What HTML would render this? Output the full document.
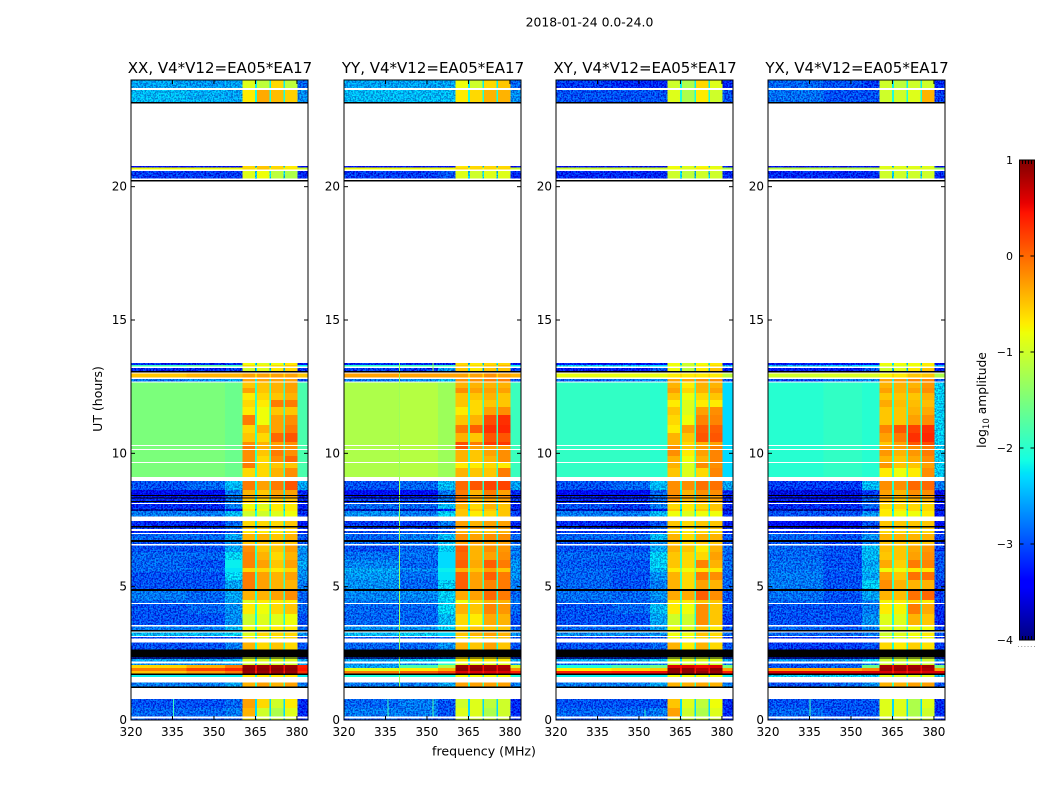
<!DOCTYPE html>
<html lang="en">
<head>
<meta charset="utf-8">
<title>2018-01-24 0.0-24.0</title>
<style>
html,body{margin:0;padding:0;background:#fff;}
svg{display:block;}
text{font-family:"DejaVu Sans","Liberation Sans",sans-serif;fill:#000;}
</style>
</head>
<body>
<svg id="chart" xmlns="http://www.w3.org/2000/svg" width="1050" height="800" viewBox="0 0 1050 800">
<defs>
<filter id="speckle" filterUnits="userSpaceOnUse" x="0" y="0" width="1050" height="800" color-interpolation-filters="sRGB">
<feTurbulence type="fractalNoise" baseFrequency="0.6" numOctaves="2" seed="7" result="raw"/>
<feColorMatrix in="raw" type="matrix" values="0 0 0 0 0.5  0 4 0 0 -1.5  0 4 0 0 -1.5  0 0 0 0 1" result="grain"/>
<feComposite in="SourceGraphic" in2="grain" operator="arithmetic" k1="0" k2="1" k3="0.4" k4="-0.2" result="mixed"/>
<feComposite in="mixed" in2="SourceAlpha" operator="in"/>
</filter>
</defs>
<rect x="0" y="0" width="1050" height="800" fill="#fff"/>
<text x="589.5" y="26.5" font-size="12.4" text-anchor="middle">2018-01-24 0.0-24.0</text>
<text x="484" y="755.5" font-size="12.6" text-anchor="middle">frequency (MHz)</text>
<text x="0" y="0" font-size="12.5" text-anchor="middle" transform="translate(102 399) rotate(-90)">UT (hours)</text>
<text x="0" y="0" font-size="12.3" text-anchor="middle" transform="translate(986 400) rotate(-90)">log<tspan font-size="8.6" dy="3">10</tspan><tspan dy="-3"> amplitude</tspan></text>
<g id="panels"></g>
<g id="colorbar"></g>
</svg>
<script>
const panelTitles = ["XX, V4*V12=EA05*EA17", "YY, V4*V12=EA05*EA17", "XY, V4*V12=EA05*EA17", "YX, V4*V12=EA05*EA17"];
const freqTicks = [320, 335, 350, 365, 380];
const hourTicks = [0, 5, 10, 15, 20];
const colorTicks = [1, 0, -1, -2, -3, -4];
const colorTickLabels = ["1", "0", "\u22121", "\u22122", "\u22123", "\u22124"];

/* channel-group edges in MHz: 3 low groups, then four windows separated by narrow gaps, then the upper edge */
const freqEdges = [320, 340, 354, 360.4, 364.9, 365.5, 370, 370.6, 375.1, 375.7, 380.2, 384];

/* time bands in UT hours, top to bottom; anything not covered stays blank */
const timeBands = [
[24,23.7],[23.63,23.18],[20.78,20.72],[20.72,20.64],[20.59,20.31],[13.39,13.31],[13.31,13.26],[13.2,13.09],[12.99,12.84],[12.79,12.69],
[12.65,12.45],[12.45,12.26],[12.26,12],[12,11.74],[11.74,11.44],[11.44,11.06],[11.06,10.76],[10.76,10.43],[10.43,10.31],[10.28,10.16],
[10.13,9.9],[9.9,9.68],[9.64,9.45],[9.45,9.12],[8.96,8.63],[8.63,8.44],[8.4,8.34],[8.31,8.21],[8.18,8.14],[8.1,7.91],
[7.91,7.84],[7.84,7.63],[7.46,7.28],[7.22,7.16],[7.09,7.01],[6.98,6.75],[6.68,6.6],[6.54,6.3],[6.3,6],[6,5.7],
[5.7,5.55],[5.55,5.25],[5.25,4.91],[4.84,4.5],[4.5,4.39],[4.35,3.98],[3.98,3.56],[3.51,3.38],[3.28,3.15],[3.11,3.06],
[2.91,2.64],[2.34,2.31],[2.29,2.19],[2.12,2.06],[2.06,1.95],[1.95,1.84],[1.84,1.74],[1.69,1.62],[1.4,1.25],[0.79,0.45],
[0.45,0.13],[0.05,0]
];

/* bands with zero amplitude, drawn solid black in every panel */
const zeroBands = [
[23.18,23.12],[20.25,20.19],[13.09,13.04],[8.44,8.4],[8.34,8.31],[8.21,8.18],[7.28,7.22],[6.75,6.68],[4.91,4.84],[3.38,3.32],
[2.64,2.34],[2.31,2.29],[1.74,1.69],[1.25,1.2]
];

/* log10 amplitude in the narrow gaps between windows, one per time band */
const gapValues = [
-2.2,-2.1,-2.6,-.9,-2.4,-2.4,-1.5,-2.5,-.6,-2.2,
-1.9,-1.9,-1.9,-1.9,-1.9,-1.9,-1.9,-1.9,-1.9,-1.9,
-1.9,-1.9,-1.9,-1.9,-2,-2.2,-2.2,-2.2,-2.2,-2.2,
-2.4,-2.1,-2.2,-2.2,-2.3,-2.1,-2.2,-1.9,-1.9,-1.9,
-1.4,-1.9,-1.9,-2,-1.6,-2,-2.1,-2,-2,-2.2,
-2.1,-2.6,-2.2,-2.4,.5,.5,.4,-2,-1.9,-2.3,
-2.3,-2.5
];

/* one row per time band: 320-340, 340-354, 354-360, window 1, window 2, window 3, window 4, 380-384 */
const valuesXX = [
[-2.6,-2.65,-2.6,-.9,-1.1,-.6,-1.1,-2.9],
[-2.5,-2.55,-2.6,-.7,-.35,-.45,-.55,-2.7],
[-3.4,-3.4,-3.4,-.6,-.5,-.6,-.7,-3.4],
[-.8,-.8,-.8,-.6,-.5,-.6,-.7,-1],
[-3.1,-3.1,-3.1,-.9,-.8,-1.1,-1.2,-3.2],
[-3.2,-3.2,-3.2,-.8,-.9,-.8,-.7,-3.3],
[-1.9,-1.7,-1.9,-.6,-.7,-.6,-.5,-2.2],
[-3.2,-3.2,-3.1,-1,-.9,-.7,-.6,-3.2],
[-.5,-.4,-.4,-.3,-.3,-.3,-.3,-.5],
[-2.8,-2.7,-2.6,-.3,-.3,-.3,-.3,-3],
[-1.5,-1.5,-1.6,-.5,-.5,-.4,-.3,-1.8],
[-1.5,-1.5,-1.6,-.3,-.5,-.4,-.3,-1.8],
[-1.5,-1.5,-1.6,-.7,-.6,-.5,-.4,-1.8],
[-1.5,-1.5,-1.6,-.6,-.7,-.1,-.1,-1.8],
[-1.5,-1.5,-1.6,-.7,-.8,-.5,-.5,-1.8],
[-1.5,-1.5,-1.6,-.1,-.8,-.3,-.2,-1.8],
[-1.5,-1.5,-1.6,-.6,-.4,-.3,-.1,-1.8],
[-1.5,-1.5,-1.6,-.5,-.6,0,.1,-1.8],
[-1.5,-1.5,-1.6,-.2,-.4,-.3,-.2,-1.8],
[-1.5,-1.5,-1.6,-.1,-.4,-.2,-.2,-1.8],
[-1.5,-1.5,-1.6,-.2,-.5,-.1,-.2,-1.8],
[-1.5,-1.5,-1.6,-.2,-.6,-.2,0,-1.8],
[-1.5,-1.5,-1.6,-.1,-.6,-.5,-.5,-1.8],
[-1.5,-1.5,-1.6,-.6,-.6,-.4,-.2,-1.8],
[-3,-2.9,-2.5,-.1,-.3,-.1,.1,-2.6],
[-3.5,-3.5,-2.8,-.4,-.5,-.3,-.3,-3.2],
[-3.3,-3.3,-2.9,-.3,-.4,-.3,-.3,-3.3],
[-3.2,-3.2,-2.8,-.5,-.6,-.5,-.5,-3.2],
[-3.2,-3.2,-2.8,-.5,-.6,-.5,-.5,-3.2],
[-3.2,-3.2,-2.8,-.8,-.9,-.7,-.7,-3.3],
[-3.9,-3.9,-3.6,-.7,-.8,-.7,-.7,-3.8],
[-2.8,-2.8,-2.5,-1,-1,-.9,-.8,-3.2],
[-3.2,-3.2,-2.9,-.6,-.6,-.6,-.5,-3.3],
[-3.1,-3.1,-2.9,-.5,-.5,-.5,-.5,-3.2],
[-3.2,-3.2,-3,-.7,-.7,-.7,-.6,-3.2],
[-2.9,-2.9,-2.6,-.4,-.4,-.5,-.4,-3],
[-3,-3,-2.7,-.5,-.5,-.5,-.5,-3],
[-3,-3,-2.6,-.2,-.5,-.5,-.3,-2.7],
[-2.9,-2.9,-2.35,-.15,-.4,-.6,-.4,-2.7],
[-2.9,-3,-2.2,-.15,-.3,-.5,-.3,-2.6],
[-2.9,-2.9,-2.25,-.6,-.6,-.7,-.6,-2.7],
[-3,-3,-2.35,-.1,-.3,-.4,-.3,-2.7],
[-3,-3,-2.6,-.1,-.3,-.4,-.4,-2.8],
[-2.8,-2.9,-2.6,-.4,-.4,-.3,-.2,-2.9],
[-2.9,-2.9,-2.6,-.9,-.7,-.7,-.7,-2.9],
[-3,-2.9,-2.7,-.7,-.8,-.6,-.5,-2.9],
[-3,-3,-2.7,-1,-.9,-.9,-.8,-3],
[-2.8,-2.8,-2.5,-.8,-.8,-.7,-.7,-2.9],
[-2.5,-2.5,-2.4,-.9,-.6,-.6,-.6,-2.7],
[-3.1,-3.1,-3,-.7,-.8,-.7,-.6,-3.1],
[-3,-3,-2.8,-.4,-.6,-.5,-.6,-3],
[-3.2,-3.2,-3.1,-1,-1,-1,-1,-3.2],
[-2.6,-2.6,-2.5,-.9,-.9,-.9,-.9,-2.6],
[-2.7,-2.7,-2.6,-1,-1,-1,-1,-2.6],
[-.6,-.4,-.1,.9,.9,.9,.9,.4],
[-.1,.2,.35,.95,.95,.95,.95,.45],
[-.5,-.3,-.1,.9,.9,.9,.9,.3],
[-2.2,-2.2,-2.2,-.7,-.7,-.7,-.7,-2.2],
[-2.8,-2.8,-2.6,-.4,-.3,-.4,-.3,-2.8],
[-3,-3,-2.9,-.3,-.6,-1,-.7,-3.2],
[-2.9,-2.9,-2.8,-.4,-1,-1.2,-.9,-3.2],
[-3,-3,-3,-.7,-1,-1,-1,-3.2]
];
const valuesYY = [
[-2.6,-2.6,-2.6,-.8,-1,-.6,-.5,-2.9],
[-2.5,-2.5,-2.5,-.7,-.6,-.4,-.4,-2.7],
[-3.4,-3.4,-3.4,-.7,-.6,-.6,-.6,-3.4],
[-.8,-.8,-.8,-.6,-.6,-.6,-.6,-1],
[-3.1,-3.1,-3,-.9,-1,-.9,-.9,-3.2],
[-3.2,-3.2,-3.2,-.6,-.7,-.6,-.6,-3.3],
[-2,-1.9,-1.9,-.5,-.6,-.5,-.4,-2.2],
[-3.1,-3.1,-2.7,-.5,-.7,-.5,-.5,-3.1],
[-.3,-.3,-.3,-.3,-.3,-.2,-.3,-.4],
[-2.8,-2.7,-2.5,-.2,-.2,-.1,-.1,-3],
[-1.2,-1.15,-1.3,-.4,-.4,-.4,-.4,-1.9],
[-1.2,-1.15,-1.3,-.2,-.3,-.3,-.3,-1.9],
[-1.2,-1.15,-1.3,-.5,-.5,-.4,-.5,-1.9],
[-1.2,-1.15,-1.3,-.5,-.6,-.5,-.5,-1.9],
[-1.2,-1.15,-1.3,-.7,-.6,-.3,-.2,-1.9],
[-1.2,-1.15,-1.3,-.5,-.4,.15,.3,-1.9],
[-1.2,-1.15,-1.3,-.1,.05,.3,.35,-1.9],
[-1.2,-1.15,-1.3,-.4,-.5,.1,.1,-1.9],
[-1.2,-1.15,-1.3,.15,-.1,.25,.25,-1.9],
[-1.2,-1.15,-1.3,.1,-.3,-.3,-.3,-1.9],
[-1.2,-1.15,-1.3,-.4,-.5,-.3,-.2,-1.9],
[-1.2,-1.15,-1.3,-.4,-.5,-.4,-.2,-1.9],
[-1.2,-1.15,-1.3,-.7,-.7,-.6,-.7,-1.9],
[-1.2,-1.15,-1.3,-.4,-.5,-.5,-.1,-1.9],
[-3,-2.9,-2.5,0,.1,.2,.2,-2.6],
[-3.4,-3.4,-2.8,-.1,-.4,-.1,-.3,-3.2],
[-3.3,-3.3,-2.9,-.1,-.3,-.2,-.2,-3.3],
[-3.1,-3.1,-2.8,-.1,-.4,-.3,-.3,-3.1],
[-3.1,-3.1,-2.8,-.3,-.4,-.4,-.4,-3.2],
[-2.9,-2.9,-2.5,-.4,-.6,-.4,-.5,-3.2],
[-3.8,-3.8,-3.3,-.5,-.5,-.5,-.5,-3.8],
[-2.7,-2.8,-2.4,-.5,-.7,-.6,-.5,-3.1],
[-3.1,-3.1,-2.8,-.3,-.4,-.3,-.3,-3.2],
[-3.1,-3.1,-2.9,-.3,-.3,-.3,-.3,-3.2],
[-3,-3,-2.9,-.4,-.5,-.5,-.4,-3.1],
[-2.9,-2.8,-2.5,-.2,-.3,-.2,-.2,-2.9],
[-2.9,-2.9,-2.5,-.3,-.3,-.3,-.3,-2.9],
[-3,-2.9,-2.4,.05,-.4,-.2,-.25,-2.8],
[-2.85,-2.85,-2.3,0,-.4,-.3,-.2,-2.8],
[-2.75,-2.9,-2.3,.05,-.35,.05,-.1,-2.7],
[-2.6,-2.75,-2.2,-.4,-.5,-.3,-.5,-2.7],
[-2.65,-2.85,-2.25,.05,-.3,.05,-.1,-2.7],
[-2.7,-2.9,-2.4,.05,-.3,-.15,-.1,-2.8],
[-2.75,-2.75,-2.4,-.35,-.3,0,-.1,-2.9],
[-2.8,-2.8,-2.4,-.8,-.6,-.4,-.4,-2.8],
[-2.9,-2.9,-2.35,-.4,-.5,-.15,-.25,-2.9],
[-2.9,-2.9,-2.5,-.6,-.7,-.35,-.4,-3],
[-2.7,-2.7,-2.4,-.6,-.5,-.5,-.5,-2.9],
[-2.5,-2.4,-2.3,-.5,-.4,-.3,-.4,-2.7],
[-3,-3,-2.9,-.7,-.7,-.5,-.5,-3],
[-2.9,-2.9,-2.7,-.4,-.5,-.3,-.5,-3],
[-3.1,-3.1,-3,-.7,-.7,-.7,-.7,-3.2],
[-2.6,-2.4,-2.2,-.7,-.7,-.7,-.7,-2.6],
[-2.7,-2.7,-2,-.9,-.9,-.9,-.9,-2.6],
[-2.6,-1.8,-1.2,.9,.9,.85,.8,-1],
[-.9,-.7,-.4,.95,.95,.9,.85,-.2],
[-.1,.05,.2,.6,.6,.6,.6,.4],
[-2.1,-2.1,-2.1,-.8,-.8,-.8,-.8,-2.1],
[-2.8,-2.8,-2.6,-.3,-.3,-.3,-.3,-2.8],
[-2.9,-2.8,-3,-1,-.9,-1.1,-1,-3.2],
[-2.8,-2.8,-3,-.9,-.9,-1.2,-1,-3.2],
[-3,-3,-3,-1,-1,-1,-1,-3.2]
];
const valuesXY = [
[-3.1,-3.2,-3.2,-1,-1.2,-.6,-.9,-3.2],
[-3,-3,-3,-.9,-1.2,-.7,-1,-3],
[-3.5,-3.5,-3.5,-.8,-.9,-.8,-.9,-3.5],
[-1,-1,-1,-.8,-.9,-.7,-.8,-1.2],
[-3.2,-3.2,-3.2,-1,-1.1,-1,-1,-3.2],
[-3.3,-3.3,-3.3,-.8,-1,-.8,-.7,-3.4],
[-2.4,-2.4,-2.3,-.8,-1,-.7,-.6,-2.5],
[-3.3,-3.3,-3,-.8,-1.1,-.7,-.5,-3.3],
[-.85,-.85,-.85,-.7,-.7,-.7,-.7,-1.1],
[-2.9,-2.8,-2.7,-.3,-.3,-.2,-.2,-3],
[-1.95,-1.95,-2,-.4,-.7,-.4,-.4,-2.3],
[-1.95,-1.95,-2,-.3,-.6,-.4,-.3,-2.3],
[-1.95,-1.95,-2,-.5,-.8,-.6,-.5,-2.3],
[-1.95,-1.95,-2,-.7,-.9,-.7,-.7,-2.3],
[-1.95,-1.95,-2,-.5,-.9,-.3,-.2,-2.3],
[-1.95,-1.95,-2,-.6,-.8,-.15,-.15,-2.3],
[-1.95,-1.95,-2,-.7,-.3,.05,.05,-2.3],
[-1.95,-1.95,-2,-.4,-.5,.1,.1,-2.3],
[-1.95,-1.95,-2,-.4,-.6,-.4,-.3,-2.3],
[-1.95,-1.95,-2,-.2,-.5,-.3,-.15,-2.3],
[-1.95,-1.95,-2,-.2,-.7,-.3,-.15,-2.3],
[-1.95,-1.95,-2,-.4,-.8,-.4,-.15,-2.3],
[-1.95,-1.95,-2,-.4,-.9,-.2,-.2,-2.3],
[-1.95,-1.95,-2,-.5,-.9,-.6,-.15,-2.3],
[-3,-2.9,-2.5,-.2,-.2,-.05,-.05,-2.6],
[-3.4,-3.4,-2.9,-.2,-.4,-.2,-.2,-3.2],
[-3.3,-3.3,-2.9,-.2,-.3,-.3,-.3,-3.3],
[-3.2,-3.2,-2.9,-.2,-.4,-.3,-.3,-3.2],
[-3.2,-3.2,-2.9,-.5,-.6,-.4,-.5,-3.2],
[-3,-3.1,-2.8,-.6,-.7,-.6,-.5,-3.2],
[-3.8,-3.8,-3.6,-.5,-.7,-.5,-.5,-3.8],
[-2.8,-2.8,-2.5,-.8,-.9,-.8,-.8,-3.2],
[-3.2,-3.2,-3,-.5,-.6,-.5,-.5,-3.3],
[-3.1,-3.1,-2.9,-.5,-.6,-.5,-.5,-3.2],
[-3.1,-3.1,-3,-.6,-.7,-.6,-.6,-3.2],
[-2.9,-2.9,-2.5,-.4,-.6,-.4,-.4,-3],
[-3,-3,-2.7,-.5,-.6,-.5,-.5,-3],
[-3,-3,-2.6,-.4,-.5,-.7,-.4,-2.9],
[-2.9,-2.9,-2.4,-.5,-.6,-.6,-.3,-2.9],
[-2.95,-3,-2.4,-.5,-.6,-.15,-.4,-2.9],
[-2.9,-2.95,-2.5,-.7,-.8,-.7,-.7,-2.9],
[-2.9,-3,-2.7,-.4,-.6,-.1,-.2,-2.9],
[-2.9,-3,-2.8,-.4,-.6,-.3,-.4,-2.9],
[-2.85,-2.9,-2.7,-.35,-.35,.05,-.2,-3],
[-2.9,-2.9,-2.8,-.7,-.7,-.5,-.5,-3],
[-3,-2.9,-2.5,-.7,-.8,-.2,-.5,-3],
[-3,-3,-2.6,-1,-1,-.2,-.5,-3.1],
[-2.9,-2.9,-2.6,-.8,-.9,-.5,-.7,-3],
[-2.7,-2.7,-2.7,-.8,-.8,-.5,-.6,-2.9],
[-3.2,-3.2,-3,-.8,-.8,-.6,-.6,-3.2],
[-3,-3,-2.9,-.4,-.7,-.4,-.6,-3],
[-3.2,-3.2,-3.1,-1,-1,-1,-1,-3.2],
[-2.6,-2.6,-2.4,-.9,-.9,-.9,-.9,-2.6],
[-2.9,-2.9,-2.8,-1,-1,-1,-1,-2.8],
[-2.1,-1.8,-1.6,.6,.6,.5,.6,-1.5],
[-.7,-.6,-.5,.95,.95,.8,.95,-.3],
[.4,.45,.5,.95,.95,.9,.9,.4],
[-2.2,-2.2,-2.2,-.8,-.8,-.8,-.8,-2.2],
[-2.8,-2.8,-2.6,-.4,-.4,-.35,-.4,-2.8],
[-3,-3,-3,-.5,-.9,-1.1,-.8,-3.2],
[-2.9,-2.9,-2.8,-.3,-1,-1.2,-.9,-3.2],
[-3,-3,-3,-.8,-1,-1,-1,-3.2]
];
const valuesYX = [
[-2.9,-3,-3.1,-1,-1.1,-1,-1,-3.2],
[-2.85,-3,-3,-1,-1,-.9,-.4,-3.1],
[-3.5,-3.5,-3.5,-.9,-.9,-.9,-.9,-3.5],
[-1.1,-1.1,-1.1,-.9,-.9,-.9,-.9,-1.3],
[-3.2,-3.2,-3.2,-1,-1,-1,-1,-3.2],
[-3.3,-3.3,-3.3,-.8,-.8,-.8,-.7,-3.4],
[-2.5,-2.5,-2.3,-.9,-.9,-.8,-.7,-2.6],
[-3.3,-3.3,-3,-1,-.9,-.7,-.5,-3.3],
[-1,-.95,-.95,-.75,-.7,-.5,-.5,-1.2],
[-3,-2.8,-2.7,-.3,-.25,-.15,-.15,-3],
[-2.02,-1.95,-2.02,-.4,-.4,-.4,-.25,-2.4],
[-2.02,-1.95,-2.02,-.3,-.4,-.3,-.2,-2.4],
[-2.02,-1.95,-2.02,-.5,-.5,-.5,-.4,-2.4],
[-2.02,-1.95,-2.02,-.35,-.45,-.45,-.45,-2.4],
[-2.02,-1.95,-2.02,-.5,-.5,-.4,-.35,-2.4],
[-2.02,-1.95,-2.02,-.5,-.5,-.3,-.2,-2.4],
[-2.02,-1.95,-2.02,-.15,.1,.2,.3,-2.4],
[-2.02,-1.95,-2.02,-.3,-.1,.3,.35,-2.4],
[-2.02,-1.95,-2.02,-.5,-.3,.1,.15,-2.4],
[-2.02,-1.95,-2.02,-.3,-.3,-.2,-.1,-2.4],
[-2.02,-1.95,-2.02,-.25,-.4,-.25,-.1,-2.4],
[-2.02,-1.95,-2.02,-.4,-.5,-.35,-.2,-2.4],
[-2.02,-1.95,-2.02,-.25,-.5,-.5,-.3,-2.4],
[-2.02,-1.95,-2.02,-.7,-.8,-.7,-.2,-2.4],
[-3.1,-3.1,-2.5,-.2,-.2,0,0,-2.8],
[-3.6,-3.6,-3.1,-.3,-.4,-.2,-.2,-3.5],
[-3.4,-3.4,-3,-.3,-.4,-.3,-.3,-3.4],
[-3.3,-3.3,-2.9,-.4,-.5,-.4,-.4,-3.3],
[-3.3,-3.3,-3,-.5,-.6,-.5,-.5,-3.3],
[-3.2,-3.2,-2.9,-.6,-.6,-.6,-.6,-3.3],
[-3.9,-3.9,-3.7,-.7,-.7,-.6,-.6,-3.9],
[-3,-3,-2.7,-.7,-.8,-.8,-.7,-3.3],
[-3.4,-3.4,-3,-.5,-.5,-.5,-.5,-3.4],
[-3.3,-3.3,-3,-.5,-.5,-.5,-.5,-3.3],
[-3.1,-3.2,-3,-.6,-.6,-.6,-.6,-3.2],
[-2.9,-3,-2.7,-.4,-.4,-.4,-.4,-3.1],
[-3,-3.1,-2.8,-.5,-.5,-.5,-.5,-3.1],
[-2.9,-3,-2.5,-.45,-.5,-.35,-.25,-3.1],
[-2.9,-3,-2.5,-.5,-.5,-.3,-.2,-3],
[-2.85,-3,-2.6,-.35,-.55,-.1,-.15,-3],
[-2.85,-2.95,-2.5,-.8,-.8,-.7,-.7,-3],
[-2.8,-3,-2.6,-.3,-.5,-.05,-.05,-3],
[-2.8,-3,-2.4,-.2,-.4,-.4,-.4,-3.1],
[-2.85,-3,-2.6,-.4,-.45,-.05,0,-3.1],
[-2.9,-3,-2.8,-.75,-.7,-.6,-.7,-3.1],
[-3,-3,-2.8,-.7,-.75,-.1,-.35,-3.2],
[-3,-3,-2.7,-.9,-.9,-.4,-.5,-3.2],
[-2.9,-3,-2.8,-.9,-.9,-.8,-.8,-3.1],
[-2.9,-2.9,-2.8,-1,-.9,-.8,-.7,-3],
[-3.2,-3.2,-3.1,-.9,-.9,-.8,-.8,-3.2],
[-3.1,-3.1,-3,-.6,-.7,-.55,-.65,-3.1],
[-3.3,-3.3,-3.2,-1,-1,-1,-1,-3.3],
[-2.7,-2.7,-2.4,-1,-1,-1,-1,-2.7],
[-3,-3,-2.8,-1,-1,-1,-1,-3],
[-3,-2.9,-1.6,.85,.85,.85,.85,-1.5],
[-.3,-.3,-.15,.9,.9,.9,.8,-.3],
[.6,.6,.6,.6,.6,.6,.6,.6],
[-2.4,-2.4,-2.4,-.9,-.9,-.9,-.9,-2.4],
[-3,-2.9,-2.7,-.4,-.4,-.3,-.3,-3],
[-3,-3,-3,-.9,-.9,-1.2,-.9,-3.2],
[-2.9,-3,-3,-.9,-.9,-1.2,-1,-3.2],
[-3,-3,-3,-1,-1,-1,-1,-3.2]
];
const panelValues = [valuesXX, valuesYY, valuesXY, valuesYX];

/* narrow interference lines: panel index, frequency in MHz, start hour, end hour, log10 amplitude */
const rfiLines = [
[0, 335.2, 0.79, 0.13, -1.9],
[1, 339.9, 13.39, 1.25, -1.3],
[1, 352, 13.39, 13.09, -1.3],
[1, 352, 0.79, 0.13, -1.8],
[1, 335.7, 0.79, 0.13, -1.9],
[3, 335, 0.79, 0.13, -1.8],
[2, 352, 0.4, 0.13, -2]
];

const NS = 'http://www.w3.org/2000/svg';
const panelLeft = [131, 344, 556, 768];
const panelWidth = 177;
const plotTop = 80;
const plotBottom = 720;
const freqMin = 320;
const freqMax = 384;
const hourMin = 0;
const hourMax = 24;
const cbLeft = 1019.5;
const cbWidth = 15;
const cbTop = 160;
const cbBottom = 640;
const cbMin = -4;
const cbMax = 1;
const speckleBelow = -2.3;

function xScale(panelIndex, mhz) {
  return panelLeft[panelIndex] + (mhz - freqMin) / (freqMax - freqMin) * panelWidth;
}
function yScale(hour) {
  return plotBottom - (hour - hourMin) / (hourMax - hourMin) * (plotBottom - plotTop);
}
function cbScale(v) {
  return cbBottom - (v - cbMin) / (cbMax - cbMin) * (cbBottom - cbTop);
}
function ramp(t, pts) {
  if (t <= pts[0][0]) return pts[0][1];
  for (let i = 1; i < pts.length; i++) {
    if (t <= pts[i][0]) {
      const a = pts[i - 1], b = pts[i];
      return a[1] + (t - a[0]) / (b[0] - a[0]) * (b[1] - a[1]);
    }
  }
  return pts[pts.length - 1][1];
}
function jet(v) {
  const t = Math.max(0, Math.min(1, (v - cbMin) / (cbMax - cbMin)));
  const r = ramp(t, [[0, 0], [0.35, 0], [0.66, 1], [0.89, 1], [1, 0.5]]);
  const g = ramp(t, [[0, 0], [0.125, 0], [0.375, 1], [0.64, 1], [0.91, 0], [1, 0]]);
  const b = ramp(t, [[0, 0.5], [0.11, 1], [0.34, 1], [0.65, 0], [1, 0]]);
  return 'rgb(' + Math.round(r * 255) + ',' + Math.round(g * 255) + ',' + Math.round(b * 255) + ')';
}
function svgEl(tag, props, parent) {
  const el = document.createElementNS(NS, tag);
  for (const k in props) el.setAttribute(k, props[k]);
  parent.appendChild(el);
  return el;
}
/* expand one row of eight values to the eleven channel groups, adding the gap value between windows */
function rowCells(row, gap) {
  return [row[0], row[1], row[2], row[3], gap, row[4], gap, row[5], gap, row[6], row[7]];
}

const panelsGroup = document.getElementById('panels');
panelTitles.forEach(function (title, p) {
  const g = svgEl('g', {}, panelsGroup);
  
  

  const heat = svgEl('g', { 'shape-rendering': 'crispEdges' }, g);
  
  

  const noisy = svgEl('g', { filter: 'url(#speckle)' }, heat);
  
  

  const smooth = svgEl('g', {}, heat);
  
  

  panelValues[p].forEach(function (row, r) {
    const band = timeBands[r];
    const cells = rowCells(row, gapValues[r]);
    cells.forEach(function (v, c) {
      const x0 = xScale(p, freqEdges[c]);
      const x1 = xScale(p, freqEdges[c + 1]);
      const y0 = yScale(band[0]);
      const y1 = yScale(band[1]);
      const cell = svgEl('rect', { x: x0, y: y0, width: x1 - x0, height: y1 - y0, fill: jet(v) }, v < speckleBelow ? noisy : smooth);
      
      
    });
  });

  rfiLines.filter(function (l) { return l[0] === p; }).forEach(function (l) {
    const y0 = yScale(l[2]);
    const y1 = yScale(l[3]);
    const line = svgEl('rect', { x: xScale(p, l[1]), y: y0, width: 1, height: y1 - y0, fill: jet(l[4]) }, heat);
    
    
  });

  zeroBands.forEach(function (band) {
    const y0 = yScale(band[0]);
    const y1 = yScale(band[1]);
    const zero = svgEl('rect', { x: xScale(p, freqMin), y: y0, width: panelWidth, height: y1 - y0, fill: '#000' }, heat);
    
    
  });

  const frame = svgEl('rect', { x: xScale(p, freqMin), y: plotTop, width: panelWidth, height: plotBottom - plotTop, fill: 'none', stroke: '#000', 'stroke-width': 1 }, g);
  
  

  freqTicks.forEach(function (f) {
    const x = xScale(p, f);
    const t1 = svgEl('line', { x1: x, x2: x, y1: plotBottom, y2: plotBottom - 4, stroke: '#000', 'stroke-width': 1 }, g);
    
    
    const t2 = svgEl('line', { x1: x, x2: x, y1: plotTop, y2: plotTop + 4, stroke: '#000', 'stroke-width': 1 }, g);
    
    
    const lab = svgEl('text', { x: x, y: 736, 'font-size': 12, 'text-anchor': 'middle' }, g);
    
    
    lab.textContent = String(f);
  });

  hourTicks.forEach(function (h) {
    const y = yScale(h);
    const x0 = xScale(p, freqMin);
    const x1 = xScale(p, freqMax);
    const t1 = svgEl('line', { x1: x0, x2: x0 + 4, y1: y, y2: y, stroke: '#000', 'stroke-width': 1 }, g);
    
    
    const t2 = svgEl('line', { x1: x1, x2: x1 - 4, y1: y, y2: y, stroke: '#000', 'stroke-width': 1 }, g);
    
    
    const lab = svgEl('text', { x: x0 - 4, y: y + 4, 'font-size': 12, 'text-anchor': 'end' }, g);
    
    
    lab.textContent = String(h);
  });

  const tt = svgEl('text', { x: xScale(p, freqMin) + panelWidth / 2 + 0.5, y: 73, 'font-size': 15, 'text-anchor': 'middle' }, g);
  
  
  tt.textContent = title;
});

const cb = document.getElementById('colorbar');
for (let py = cbTop; py < cbBottom; py++) {
  const v = cbMax - (py + 0.5 - cbTop) / (cbBottom - cbTop) * (cbMax - cbMin);
  const strip = svgEl('rect', { x: cbLeft, y: py, width: cbWidth, height: 1, fill: jet(v), 'shape-rendering': 'crispEdges' }, cb);
  
  
}
const cbFrame = svgEl('rect', { x: cbLeft, y: cbTop, width: cbWidth, height: cbBottom - cbTop, fill: 'none', stroke: '#000', 'stroke-width': 1 }, cb);


colorTicks.forEach(function (v, i) {
  const y = cbScale(v);
  const t1 = svgEl('line', { x1: cbLeft, x2: cbLeft + 4, y1: y, y2: y, stroke: '#000', 'stroke-width': 1 }, cb);
  
  
  const t2 = svgEl('line', { x1: cbLeft + cbWidth, x2: cbLeft + cbWidth - 4, y1: y, y2: y, stroke: '#000', 'stroke-width': 1 }, cb);
  
  
  const lab = svgEl('text', { x: 1013, y: y + 4, 'font-size': 11, 'text-anchor': 'end' }, cb);
  
  
  lab.textContent = colorTickLabels[i];
});
[0.2, 0.4, 0.6, 0.8].forEach(function (frac) {
  const x = cbLeft + frac * cbWidth;
  const top = svgEl('line', { x1: x, x2: x, y1: cbTop, y2: cbTop + 4, stroke: '#000', 'stroke-width': 1 }, cb);
  
  
  const bot = svgEl('line', { x1: x, x2: x, y1: cbBottom, y2: cbBottom - 4, stroke: '#000', 'stroke-width': 1 }, cb);
  
  
});
[0, 1, 2, 3, 4, 5].forEach(function (k) {
  const dot = svgEl('rect', { x: 1018 + k * 3.2, y: 646, width: 1, height: 1, fill: '#999' }, cb);
  
  
});
</script>
</body>
</html>
